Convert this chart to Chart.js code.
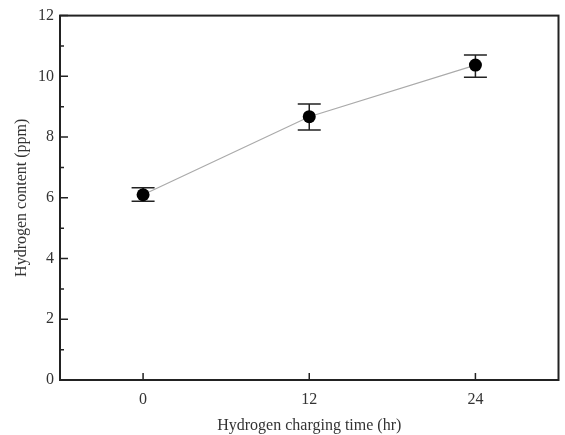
<!DOCTYPE html>
<html lang="en">
<head>
<meta charset="UTF-8">
<title>Hydrogen content</title>
<script src="https://cdn.jsdelivr.net/npm/chart.js"></script>
<style>
  body { margin: 0; background: #fff; }
  #wrap { width: 565px; height: 435px; }
</style>
</head>
<body>
<div id="wrap"><canvas id="grafik"></canvas></div>
<script>
  // data
  const chargingTime = [0, 12, 24];
  const hydrogenContent = [6.1, 8.67, 10.37];
  const errLow = [5.89, 8.23, 9.97];
  const errHigh = [6.33, 9.09, 10.7];
  const xTickValues = [0, 12, 24];
  const yTickValues = [0, 2, 4, 6, 8, 10, 12];

  const serif = '"Liberation Serif", "DejaVu Serif", serif';

  // error bars, inward ticks and the frame
  const ramka = {
    id: 'ramka',
    beforeDatasetsDraw(chart) {
      const { ctx, scales: { x, y } } = chart;
      ctx.save();
      ctx.strokeStyle = '#222';
      ctx.lineWidth = 1.5;
      chargingTime.forEach((t, i) => {
        const px = x.getPixelForValue(t);
        const lo = y.getPixelForValue(errLow[i]);
        const hi = y.getPixelForValue(errHigh[i]);
        ctx.beginPath();
        ctx.moveTo(px, lo); ctx.lineTo(px, hi);
        ctx.moveTo(px - 11.5, lo); ctx.lineTo(px + 11.5, lo);
        ctx.moveTo(px - 11.5, hi); ctx.lineTo(px + 11.5, hi);
        ctx.stroke();
      });
      ctx.restore();
    },
    afterDraw(chart) {
      const { ctx, chartArea: a, scales: { x, y } } = chart;
      ctx.save();
      ctx.strokeStyle = '#222';
      ctx.lineWidth = 1.5;
      ctx.beginPath();
      for (let v = 0; v <= 12; v++) {
        const py = y.getPixelForValue(v);
        const len = v % 2 === 0 ? 8 : 4;
        ctx.moveTo(a.left, py); ctx.lineTo(a.left + len, py);
      }
      xTickValues.forEach(t => {
        const px = x.getPixelForValue(t);
        ctx.moveTo(px, a.bottom); ctx.lineTo(px, a.bottom - 7);
      });
      ctx.stroke();
      ctx.lineWidth = 2;
      ctx.strokeRect(a.left, a.top, a.right - a.left, a.bottom - a.top);
      ctx.restore();
    }
  };

  new Chart(document.getElementById('grafik'), {
    type: 'line',
    data: {
      datasets: [{
        data: chargingTime.map((t, i) => ({ x: t, y: hydrogenContent[i] })),
        borderColor: '#aaaaaa',
        borderWidth: 1.2,
        pointRadius: 6.5,
        pointBackgroundColor: '#000',
        pointBorderColor: '#000',
        pointBorderWidth: 0,
        tension: 0
      }]
    },
    options: {
      responsive: true,
      maintainAspectRatio: false,
      animation: false,
      layout: { padding: { top: 13, right: 6, left: 12, bottom: 0 } },
      plugins: { legend: { display: false }, tooltip: { enabled: false } },
      scales: {
        x: {
          type: 'linear',
          min: -6,
          max: 30,
          afterBuildTicks: s => { s.ticks = xTickValues.map(v => ({ value: v })); },
          afterFit: s => { s.height = 55; },
          grid: { display: false, drawTicks: false },
          border: { display: false },
          ticks: { color: '#333', font: { family: serif, size: 16 }, padding: 10 },
          title: {
            display: true,
            text: 'Hydrogen charging time (hr)',
            color: '#333',
            font: { family: serif, size: 16 },
            padding: { top: 6, bottom: 0 }
          }
        },
        y: {
          min: 0,
          max: 12,
          afterBuildTicks: s => { s.ticks = yTickValues.map(v => ({ value: v })); },
          afterFit: s => { s.width = 48; },
          grid: { display: false, drawTicks: false },
          border: { display: false },
          ticks: { color: '#333', font: { family: serif, size: 16 }, padding: 6 },
          title: {
            display: true,
            text: 'Hydrogen content (ppm)',
            color: '#333',
            font: { family: serif, size: 16 },
            padding: { top: 0, bottom: 4 }
          }
        }
      }
    },
    plugins: [ramka]
  });
</script>
</body>
</html>
